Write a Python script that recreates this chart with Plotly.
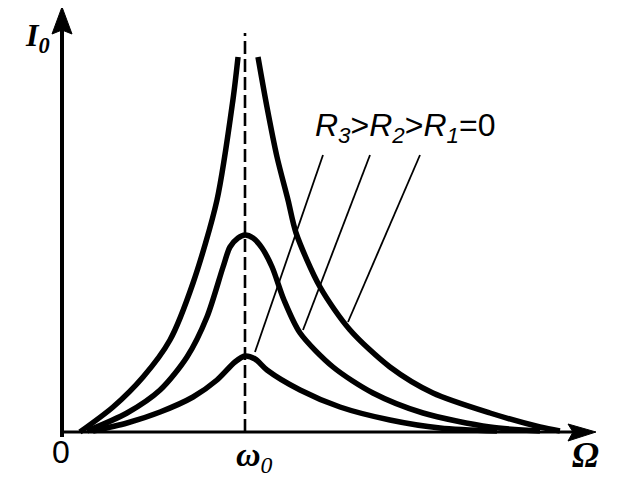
import plotly.graph_objects as go

# Resonance curves, Omega in units of omega_0, amplitude in arbitrary units
r1_left_x = [0.098, 0.279, 0.443, 0.590, 0.716, 0.847, 0.934, 0.962]
r1_left_y = [0.0, 0.25, 0.55, 0.92, 1.49, 2.32, 3.32, 3.75]
r1_right_x = [1.071, 1.120, 1.175, 1.235, 1.279, 1.410, 1.574, 1.792, 2.027, 2.339, 2.612, 2.721]
r1_right_y = [3.75, 3.25, 2.75, 2.32, 1.99, 1.45, 1.02, 0.65, 0.39, 0.19, 0.05, 0.01]
r2_x = [0.137, 0.355, 0.536, 0.683, 0.792, 0.880, 0.918, 0.962, 1.0, 1.044, 1.093, 1.148, 1.213, 1.301, 1.481, 1.699, 1.973, 2.339, 2.612]
r2_y = [0.01, 0.19, 0.42, 0.75, 1.15, 1.65, 1.85, 1.94, 1.97, 1.94, 1.84, 1.65, 1.32, 0.99, 0.65, 0.39, 0.19, 0.05, 0.01]
r3_x = [0.169, 0.355, 0.536, 0.716, 0.847, 0.945, 1.0, 1.055, 1.120, 1.301, 1.519, 1.792, 2.066, 2.377]
r3_y = [0.01, 0.09, 0.20, 0.35, 0.52, 0.70, 0.76, 0.73, 0.62, 0.42, 0.25, 0.12, 0.04, 0.01]
omega0 = 1.0

# The page body has an 8px margin; the figure is sized so it fits the window.
PAGE_W, PAGE_H, BODY = 628, 480, 8
W, H = PAGE_W - BODY, PAGE_H - BODY
X0, Y0, SX, SY = 62, 432, 183, 100  # page-pixel origin and scale


def X(px):
    return (px - X0) / SX


def Y(py):
    return (Y0 - py) / SY


fig = go.Figure()
line = dict(color="black", width=5.5, shape="spline", smoothing=0.8)
for xs, ys in [(r1_left_x, r1_left_y), (r1_right_x, r1_right_y), (r2_x, r2_y), (r3_x, r3_y)]:
    fig.add_trace(go.Scatter(x=xs, y=ys, mode="lines", line=line, hoverinfo="skip", showlegend=False))

shapes = []
# axes
shapes.append(dict(type="line", x0=X(62), y0=Y(437), x1=X(62), y1=Y(25), line=dict(color="black", width=4)))
shapes.append(dict(type="line", x0=X(60), y0=Y(432), x1=X(575), y1=Y(432), line=dict(color="black", width=3)))
shapes.append(dict(type="path", path=f"M {X(62)} {Y(7)} L {X(72)} {Y(34)} L {X(62)} {Y(30)} L {X(52)} {Y(34)} Z",
                   fillcolor="black", line=dict(color="black", width=1)))
shapes.append(dict(type="path", path=f"M {X(596)} {Y(432)} L {X(568)} {Y(441)} L {X(573)} {Y(432)} L {X(568)} {Y(424)} Z",
                   fillcolor="black", line=dict(color="black", width=1)))
# resonance line
shapes.append(dict(type="line", x0=omega0, y0=0, x1=omega0, y1=Y(33),
                   line=dict(color="black", width=2.6, dash="13px,5px")))
# leader lines
for (a, b, c, d) in [(323, 155, 255, 352), (370, 155, 303, 330), (420, 155, 348, 322)]:
    shapes.append(dict(type="line", x0=X(a), y0=Y(b), x1=X(c), y1=Y(d), line=dict(color="black", width=1.8)))

serif = "Liberation Serif"
sans = "Liberation Sans"
ann = [
    dict(x=X(37), y=Y(37), text="<i><b>I</b></i><sub><i><b>0</b></i></sub>", font=dict(family=serif, size=32, color="black")),
    dict(x=X(61), y=Y(452), text="0", font=dict(family=sans, size=32, color="black")),
    dict(x=X(254), y=Y(457), text="<i><b>ω</b></i><sub><i>0</i></sub>", font=dict(family=serif, size=34, color="black")),
    dict(x=X(585), y=Y(455), text="<i><b>Ω</b></i>", font=dict(family=serif, size=36, color="black")),
    dict(x=X(405), y=Y(127), text="<i>R</i><sub><i>3</i></sub>&gt;<i>R</i><sub><i>2</i></sub>&gt;<i>R</i><sub><i>1</i></sub>=0",
         font=dict(family=sans, size=32, color="black")),
]
for a in ann:
    a.update(xref="x", yref="y", showarrow=False, xanchor="center", yanchor="middle")

fig.update_layout(
    width=W, height=H, margin=dict(l=0, r=0, t=0, b=0),
    paper_bgcolor="white", plot_bgcolor="white",
    xaxis=dict(range=[X(BODY), X(PAGE_W)], visible=False, fixedrange=True),
    yaxis=dict(range=[Y(PAGE_H), Y(BODY)], visible=False, fixedrange=True),
    shapes=shapes, annotations=ann, showlegend=False,
)
fig.write_html("out.html")
